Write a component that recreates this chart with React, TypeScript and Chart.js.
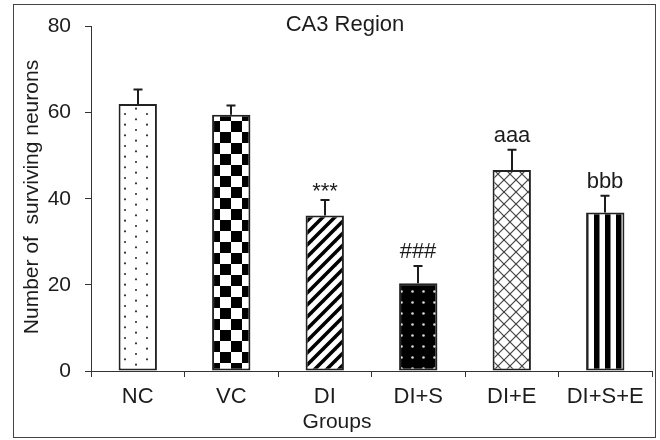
import React, { useEffect, useRef } from "react";
import { Chart, registerables } from "chart.js";

Chart.register(...registerables);

const categories = ["NC", "VC", "DI", "DI+S", "DI+E", "DI+S+E"];
const means = [62.0, 59.5, 36.1, 20.4, 46.7, 36.8];
const errors = [3.4, 2.2, 3.6, 4.0, 4.7, 3.9];
const marks = ["", "", "***", "###", "aaa", "bbb"];
const patternKinds = ["dots", "checker", "diag", "darkDots", "lattice", "vstripes"];
const yMin = 0;
const yMax = 80;
const yStep = 20;
const chartTitle = "CA3 Region";
const xTitle = "Groups";
const yTitle = "Number of  surviving neurons";

const FONT = "'Liberation Sans', Arial, sans-serif";
const INK = "#1c1c1c";

function tile(w: number, h: number, draw: (c: CanvasRenderingContext2D) => void) {
  const cv = document.createElement("canvas");
  cv.width = w;
  cv.height = h;
  const c = cv.getContext("2d")!;
  draw(c);
  return c.createPattern(cv, "repeat")!;
}

function makePattern(kind: string) {
  switch (kind) {
    case "dots":
      return tile(22, 32, (c) => {
        c.fillStyle = "#fff";
        c.fillRect(0, 0, 22, 32);
        c.fillStyle = "#333";
        for (let k = 0; k < 3; k++) {
          c.beginPath();
          c.arc(4, 2 + k * 10.667, 1.1, 0, Math.PI * 2);
          c.fill();
          c.beginPath();
          c.arc(15, 7.33 + k * 10.667, 1.1, 0, Math.PI * 2);
          c.fill();
        }
      });
    case "checker":
      return tile(22, 22, (c) => {
        c.fillStyle = "#fff";
        c.fillRect(0, 0, 22, 22);
        c.fillStyle = "#000";
        c.fillRect(0, 0, 11, 11);
        c.fillRect(11, 11, 11, 11);
      });
    case "diag":
      return tile(12, 12, (c) => {
        c.fillStyle = "#fff";
        c.fillRect(0, 0, 12, 12);
        c.strokeStyle = "#000";
        c.lineWidth = 3.5;
        for (const k of [0, 12, 24]) {
          c.beginPath();
          c.moveTo(k - 14, 14);
          c.lineTo(14, k - 14);
          c.stroke();
        }
      });
    case "darkDots":
      return tile(11, 11, (c) => {
        c.fillStyle = "#000";
        c.fillRect(0, 0, 11, 11);
        c.fillStyle = "#ddd";
        c.beginPath();
        c.arc(5.5, 5.5, 1.3, 0, Math.PI * 2);
        c.fill();
      });
    case "lattice":
      return tile(12, 12, (c) => {
        c.fillStyle = "#fff";
        c.fillRect(0, 0, 12, 12);
        c.strokeStyle = "#444";
        c.lineWidth = 1.2;
        for (const k of [0, 12, 24]) {
          c.beginPath();
          c.moveTo(k - 14, 14);
          c.lineTo(14, k - 14);
          c.stroke();
        }
        for (const k of [-12, 0, 12]) {
          c.beginPath();
          c.moveTo(-2, -2 + k);
          c.lineTo(14, 14 + k);
          c.stroke();
        }
      });
    default:
      return tile(11, 4, (c) => {
        c.fillStyle = "#fff";
        c.fillRect(0, 0, 11, 4);
        c.fillStyle = "#000";
        c.fillRect(0, 0, 5.5, 4);
      });
  }
}

const framePlugin = {
  id: "frame",
  beforeDraw(chart: any) {
    const c = chart.ctx;
    c.save();
    c.fillStyle = "#fff";
    c.fillRect(0, 0, chart.width, chart.height);
    c.strokeStyle = "#444";
    c.lineWidth = 1;
    c.strokeRect(13.5, 4.5, 642, 433);
    c.restore();
  },
  afterDraw(chart: any) {
    const c = chart.ctx;
    c.save();
    c.fillStyle = INK;
    c.textAlign = "center";
    c.textBaseline = "alphabetic";
    c.font = `22px ${FONT}`;
    c.fillText(chartTitle, 345, 31);
    c.font = `21px ${FONT}`;
    c.fillText(xTitle, 337, 428);
    c.translate(38, 197);
    c.rotate(-Math.PI / 2);
    c.fillText(yTitle, 0, 0);
    c.restore();
  },
};

const errorPlugin = {
  id: "errs",
  afterDatasetsDraw(chart: any) {
    const c = chart.ctx;
    const meta = chart.getDatasetMeta(0);
    const ys = chart.scales.y;
    c.save();
    c.strokeStyle = INK;
    c.lineWidth = 2;
    meta.data.forEach((bar: any, i: number) => {
      const x = Math.round(bar.x);
      const top = ys.getPixelForValue(means[i] + errors[i]);
      c.beginPath();
      c.moveTo(x, bar.y);
      c.lineTo(x, top);
      c.moveTo(x - 4.5, top);
      c.lineTo(x + 4.5, top);
      c.stroke();
      const m = marks[i];
      if (m) {
        c.fillStyle = INK;
        c.font = `22px ${FONT}`;
        c.textAlign = "center";
        c.textBaseline = "alphabetic";
        const gap = m === "***" ? 2 : 8;
        c.fillText(m, x, top - gap);
      }
    });
    c.restore();
  },
};

export default function App() {
  const ref = useRef<HTMLCanvasElement>(null);
  useEffect(() => {
    const chart = new Chart(ref.current!, {
      type: "bar",
      data: {
        labels: categories,
        datasets: [
          {
            data: means,
            backgroundColor: patternKinds.map(makePattern) as any,
            borderColor: "#222",
            borderWidth: 2,
            borderSkipped: false,
            barPercentage: 0.41,
            categoryPercentage: 1,
          },
        ],
      },
      options: {
        animation: false,
        responsive: false,
        layout: { padding: { top: 25, right: 8, left: 0, bottom: 0 } },
        plugins: { legend: { display: false }, tooltip: { enabled: false }, title: { display: false } },
        scales: {
          x: {
            grid: { offset: true, drawOnChartArea: false, drawTicks: true, tickLength: 6, color: "#333" },
            border: { display: true, color: "#333", width: 1 },
            ticks: { color: INK, font: { family: FONT, size: 22 }, padding: 7 },
            afterFit: (s: any) => {
              s.height = 69;
            },
          },
          y: {
            min: yMin,
            max: yMax,
            grid: { drawOnChartArea: false, drawTicks: true, tickLength: 6, color: "#333" },
            border: { display: true, color: "#333", width: 1 },
            ticks: { stepSize: yStep, color: INK, font: { family: FONT, size: 21 }, padding: 14 },
            afterFit: (s: any) => {
              s.width = 91;
            },
          },
        },
      },
      plugins: [framePlugin, errorPlugin],
    });
    return () => chart.destroy();
  }, []);
  return (
    <div style={{ position: "absolute", left: 0, top: 0, width: 660, height: 440 }}>
      <canvas ref={ref} width={660} height={440} style={{ display: "block" }} />
    </div>
  );
}
